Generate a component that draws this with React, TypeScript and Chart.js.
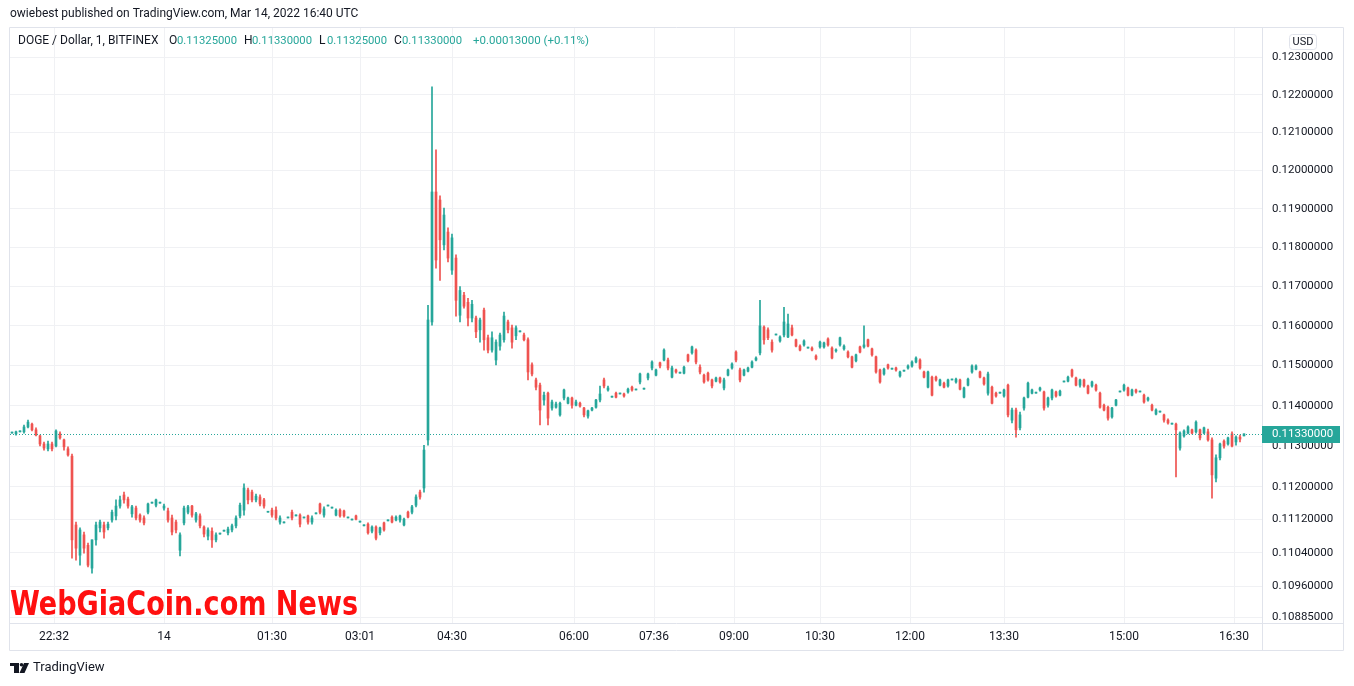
import { useEffect, useRef } from "react";
import { Chart, registerables } from "chart.js";

Chart.register(...registerables);

// DOGE / Dollar, 1 min, BITFINEX — one entry per candle (left to right)
const open = [
  0.11332, 0.11330, 0.11335, 0.11335, 0.11347, 0.11354, 0.11340, 0.11325, 0.11305, 0.11293,
  0.11305, 0.11300, 0.11330, 0.11315, 0.11293, 0.11275, 0.11107, 0.11034, 0.11083, 0.11058,
  0.11003, 0.11071, 0.11100, 0.11107, 0.11100, 0.11119, 0.11129, 0.11153, 0.11180, 0.11170,
  0.11134, 0.11148, 0.11131, 0.11124, 0.11138, 0.11160, 0.11155, 0.11160, 0.11148, 0.11141,
  0.11124, 0.11114, 0.11046, 0.11112, 0.11138, 0.11153, 0.11119, 0.11129, 0.11102, 0.11080,
  0.11092, 0.11071, 0.11085, 0.11092, 0.11088, 0.11095, 0.11105, 0.11129, 0.11143, 0.11192,
  0.11187, 0.11168, 0.11175, 0.11168, 0.11138, 0.11143, 0.11143, 0.11114, 0.11112, 0.11124,
  0.11138, 0.11129, 0.11131, 0.11124, 0.11129, 0.11114, 0.11134, 0.11158, 0.11131, 0.11153,
  0.11148, 0.11131, 0.11143, 0.11141, 0.11124, 0.11119, 0.11129, 0.11114, 0.11105, 0.11109,
  0.11092, 0.11102, 0.11088, 0.11112, 0.11117, 0.11126, 0.11119, 0.11119, 0.11107, 0.11138,
  0.11138, 0.11155, 0.11187, 0.11197, 0.11315, 0.11610, 0.11944, 0.11923, 0.11807, 0.11840,
  0.11742, 0.11773, 0.11627, 0.11678, 0.11660, 0.11620, 0.11620, 0.11590, 0.11640, 0.11570,
  0.11539, 0.11514, 0.11549, 0.11565, 0.11610, 0.11595, 0.11575, 0.11585, 0.11577, 0.11565,
  0.11502, 0.11464, 0.11451, 0.11414, 0.11431, 0.11394, 0.11396, 0.11377, 0.11419, 0.11406,
  0.11419, 0.11401, 0.11406, 0.11394, 0.11374, 0.11389, 0.11396, 0.11414, 0.11464, 0.11439,
  0.11421, 0.11431, 0.11429, 0.11429, 0.11434, 0.11446, 0.11439, 0.11459, 0.11441, 0.11469,
  0.11494, 0.11476, 0.11507, 0.11514, 0.11514, 0.11471, 0.11489, 0.11481, 0.11481, 0.11527,
  0.11532, 0.11539, 0.11496, 0.11476, 0.11481, 0.11464, 0.11461, 0.11469, 0.11444, 0.11476,
  0.11494, 0.11534, 0.11489, 0.11476, 0.11486, 0.11496, 0.11514, 0.11532, 0.11597, 0.11590,
  0.11559, 0.11577, 0.11562, 0.11577, 0.11572, 0.11595, 0.11565, 0.11549, 0.11552, 0.11544,
  0.11544, 0.11524, 0.11547, 0.11547, 0.11567, 0.11544, 0.11537, 0.11552, 0.11542, 0.11534,
  0.11522, 0.11512, 0.11547, 0.11547, 0.11565, 0.11542, 0.11522, 0.11489, 0.11479, 0.11502,
  0.11491, 0.11494, 0.11474, 0.11486, 0.11494, 0.11499, 0.11509, 0.11514, 0.11484, 0.11446,
  0.11471, 0.11471, 0.11451, 0.11456, 0.11449, 0.11464, 0.11459, 0.11464, 0.11421, 0.11451,
  0.11484, 0.11491, 0.11484, 0.11469, 0.11431, 0.11446, 0.11431, 0.11431, 0.11424, 0.11451,
  0.11364, 0.11389, 0.11345, 0.11394, 0.11421, 0.11431, 0.11431, 0.11439, 0.11434, 0.11401,
  0.11419, 0.11434, 0.11426, 0.11459, 0.11461, 0.11489, 0.11469, 0.11451, 0.11464, 0.11449,
  0.11449, 0.11451, 0.11431, 0.11401, 0.11396, 0.11372, 0.11401, 0.11434, 0.11439, 0.11444,
  0.11426, 0.11439, 0.11434, 0.11426, 0.11414, 0.11401, 0.11379, 0.11384, 0.11377, 0.11364,
  0.11354, 0.11354, 0.11295, 0.11325, 0.11332, 0.11340, 0.11335, 0.11340, 0.11332, 0.11335,
  0.11315, 0.11221, 0.11271, 0.11312, 0.11305, 0.11330, 0.11310, 0.11322, 0.11325,
];

const high = [
  0.11332, 0.11337, 0.11335, 0.11352, 0.11364, 0.11357, 0.11345, 0.11327, 0.11310, 0.11312,
  0.11310, 0.11340, 0.11335, 0.11317, 0.11298, 0.11280, 0.11114, 0.11100, 0.11090, 0.11063,
  0.11071, 0.11114, 0.11119, 0.11114, 0.11114, 0.11143, 0.11168, 0.11177, 0.11187, 0.11175,
  0.11155, 0.11153, 0.11134, 0.11129, 0.11160, 0.11160, 0.11170, 0.11160, 0.11158, 0.11148,
  0.11131, 0.11119, 0.11088, 0.11153, 0.11155, 0.11155, 0.11138, 0.11134, 0.11105, 0.11100,
  0.11100, 0.11088, 0.11085, 0.11092, 0.11102, 0.11109, 0.11129, 0.11160, 0.11207, 0.11197,
  0.11192, 0.11182, 0.11180, 0.11172, 0.11138, 0.11148, 0.11151, 0.11129, 0.11112, 0.11124,
  0.11143, 0.11129, 0.11134, 0.11124, 0.11131, 0.11129, 0.11134, 0.11160, 0.11151, 0.11153,
  0.11148, 0.11146, 0.11146, 0.11143, 0.11124, 0.11119, 0.11131, 0.11114, 0.11105, 0.11112,
  0.11105, 0.11105, 0.11102, 0.11114, 0.11117, 0.11129, 0.11129, 0.11131, 0.11124, 0.11141,
  0.11155, 0.11180, 0.11192, 0.11302, 0.11652, 0.12221, 0.12054, 0.11934, 0.11902, 0.11851,
  0.11835, 0.11781, 0.11700, 0.11685, 0.11670, 0.11665, 0.11625, 0.11620, 0.11645, 0.11577,
  0.11585, 0.11565, 0.11582, 0.11635, 0.11615, 0.11602, 0.11600, 0.11585, 0.11582, 0.11570,
  0.11507, 0.11469, 0.11456, 0.11434, 0.11434, 0.11414, 0.11409, 0.11409, 0.11441, 0.11421,
  0.11421, 0.11414, 0.11409, 0.11396, 0.11389, 0.11396, 0.11416, 0.11449, 0.11469, 0.11449,
  0.11421, 0.11434, 0.11429, 0.11431, 0.11444, 0.11449, 0.11439, 0.11481, 0.11441, 0.11481,
  0.11512, 0.11491, 0.11509, 0.11542, 0.11519, 0.11499, 0.11491, 0.11481, 0.11499, 0.11529,
  0.11549, 0.11542, 0.11502, 0.11479, 0.11484, 0.11466, 0.11471, 0.11471, 0.11469, 0.11491,
  0.11507, 0.11537, 0.11494, 0.11491, 0.11496, 0.11512, 0.11522, 0.11665, 0.11600, 0.11595,
  0.11565, 0.11577, 0.11575, 0.11647, 0.11630, 0.11602, 0.11567, 0.11552, 0.11565, 0.11544,
  0.11547, 0.11527, 0.11562, 0.11559, 0.11570, 0.11547, 0.11542, 0.11572, 0.11552, 0.11537,
  0.11524, 0.11529, 0.11549, 0.11600, 0.11567, 0.11544, 0.11524, 0.11491, 0.11494, 0.11504,
  0.11491, 0.11496, 0.11486, 0.11486, 0.11502, 0.11512, 0.11522, 0.11517, 0.11486, 0.11486,
  0.11474, 0.11474, 0.11466, 0.11459, 0.11466, 0.11464, 0.11469, 0.11466, 0.11446, 0.11469,
  0.11502, 0.11502, 0.11486, 0.11471, 0.11484, 0.11449, 0.11434, 0.11431, 0.11441, 0.11454,
  0.11394, 0.11394, 0.11384, 0.11421, 0.11459, 0.11441, 0.11431, 0.11446, 0.11436, 0.11421,
  0.11441, 0.11436, 0.11439, 0.11459, 0.11474, 0.11491, 0.11471, 0.11466, 0.11466, 0.11451,
  0.11461, 0.11454, 0.11434, 0.11404, 0.11399, 0.11396, 0.11416, 0.11434, 0.11454, 0.11446,
  0.11441, 0.11441, 0.11434, 0.11429, 0.11421, 0.11404, 0.11392, 0.11384, 0.11379, 0.11367,
  0.11354, 0.11357, 0.11335, 0.11340, 0.11350, 0.11342, 0.11362, 0.11342, 0.11347, 0.11342,
  0.11320, 0.11278, 0.11307, 0.11315, 0.11322, 0.11335, 0.11325, 0.11327, 0.11330,
];

const low = [
  0.11332, 0.11327, 0.11335, 0.11332, 0.11345, 0.11337, 0.11325, 0.11300, 0.11290, 0.11288,
  0.11288, 0.11298, 0.11317, 0.11290, 0.11275, 0.11027, 0.11022, 0.11010, 0.11039, 0.11006,
  0.10991, 0.11058, 0.11090, 0.11075, 0.11095, 0.11114, 0.11119, 0.11148, 0.11160, 0.11148,
  0.11126, 0.11119, 0.11114, 0.11107, 0.11134, 0.11160, 0.11151, 0.11160, 0.11143, 0.11114,
  0.11083, 0.11088, 0.11032, 0.11107, 0.11134, 0.11126, 0.11114, 0.11100, 0.11078, 0.11071,
  0.11053, 0.11066, 0.11085, 0.11092, 0.11083, 0.11090, 0.11100, 0.11124, 0.11131, 0.11158,
  0.11163, 0.11163, 0.11153, 0.11148, 0.11138, 0.11126, 0.11119, 0.11109, 0.11112, 0.11124,
  0.11119, 0.11129, 0.11102, 0.11124, 0.11109, 0.11109, 0.11134, 0.11134, 0.11126, 0.11153,
  0.11148, 0.11129, 0.11126, 0.11126, 0.11124, 0.11119, 0.11119, 0.11114, 0.11105, 0.11085,
  0.11088, 0.11071, 0.11083, 0.11092, 0.11117, 0.11112, 0.11117, 0.11114, 0.11105, 0.11124,
  0.11134, 0.11151, 0.11170, 0.11187, 0.11302, 0.11602, 0.11747, 0.11716, 0.11794, 0.11763,
  0.11731, 0.11625, 0.11610, 0.11645, 0.11600, 0.11610, 0.11570, 0.11559, 0.11539, 0.11532,
  0.11534, 0.11502, 0.11539, 0.11559, 0.11582, 0.11544, 0.11565, 0.11585, 0.11562, 0.11464,
  0.11474, 0.11439, 0.11352, 0.11401, 0.11352, 0.11389, 0.11394, 0.11374, 0.11414, 0.11404,
  0.11394, 0.11399, 0.11396, 0.11372, 0.11369, 0.11387, 0.11394, 0.11409, 0.11444, 0.11436,
  0.11421, 0.11419, 0.11429, 0.11421, 0.11431, 0.11436, 0.11439, 0.11454, 0.11441, 0.11464,
  0.11489, 0.11474, 0.11494, 0.11512, 0.11489, 0.11469, 0.11481, 0.11481, 0.11479, 0.11509,
  0.11529, 0.11504, 0.11479, 0.11456, 0.11461, 0.11444, 0.11459, 0.11456, 0.11439, 0.11474,
  0.11491, 0.11509, 0.11459, 0.11474, 0.11484, 0.11494, 0.11512, 0.11527, 0.11554, 0.11565,
  0.11534, 0.11577, 0.11559, 0.11572, 0.11570, 0.11575, 0.11547, 0.11537, 0.11549, 0.11544,
  0.11537, 0.11514, 0.11544, 0.11544, 0.11549, 0.11517, 0.11534, 0.11549, 0.11539, 0.11519,
  0.11494, 0.11509, 0.11532, 0.11544, 0.11547, 0.11524, 0.11481, 0.11456, 0.11476, 0.11491,
  0.11491, 0.11486, 0.11471, 0.11486, 0.11491, 0.11496, 0.11507, 0.11491, 0.11469, 0.11444,
  0.11424, 0.11461, 0.11449, 0.11444, 0.11446, 0.11464, 0.11456, 0.11439, 0.11419, 0.11449,
  0.11481, 0.11489, 0.11469, 0.11451, 0.11426, 0.11404, 0.11421, 0.11431, 0.11421, 0.11372,
  0.11357, 0.11322, 0.11340, 0.11389, 0.11419, 0.11429, 0.11431, 0.11436, 0.11389, 0.11396,
  0.11414, 0.11421, 0.11424, 0.11459, 0.11459, 0.11471, 0.11449, 0.11446, 0.11446, 0.11429,
  0.11446, 0.11436, 0.11394, 0.11387, 0.11364, 0.11369, 0.11399, 0.11434, 0.11436, 0.11424,
  0.11424, 0.11431, 0.11434, 0.11406, 0.11411, 0.11387, 0.11377, 0.11384, 0.11359, 0.11354,
  0.11354, 0.11224, 0.11290, 0.11322, 0.11330, 0.11330, 0.11332, 0.11315, 0.11330, 0.11312,
  0.11172, 0.11212, 0.11266, 0.11295, 0.11302, 0.11298, 0.11302, 0.11310, 0.11325,
];

const close = [
  0.11332, 0.11335, 0.11335, 0.11347, 0.11359, 0.11340, 0.11327, 0.11305, 0.11295, 0.11305,
  0.11293, 0.11337, 0.11320, 0.11298, 0.11278, 0.11071, 0.11051, 0.11095, 0.11051, 0.11010,
  0.11071, 0.11107, 0.11114, 0.11090, 0.11109, 0.11138, 0.11153, 0.11168, 0.11168, 0.11153,
  0.11151, 0.11124, 0.11119, 0.11112, 0.11158, 0.11160, 0.11168, 0.11160, 0.11153, 0.11119,
  0.11090, 0.11095, 0.11083, 0.11148, 0.11151, 0.11131, 0.11134, 0.11105, 0.11085, 0.11095,
  0.11071, 0.11083, 0.11085, 0.11092, 0.11097, 0.11105, 0.11124, 0.11155, 0.11197, 0.11168,
  0.11168, 0.11177, 0.11158, 0.11153, 0.11138, 0.11131, 0.11124, 0.11124, 0.11112, 0.11124,
  0.11124, 0.11129, 0.11109, 0.11124, 0.11114, 0.11124, 0.11134, 0.11138, 0.11146, 0.11153,
  0.11148, 0.11143, 0.11129, 0.11129, 0.11124, 0.11119, 0.11121, 0.11114, 0.11105, 0.11088,
  0.11102, 0.11075, 0.11100, 0.11095, 0.11117, 0.11114, 0.11126, 0.11129, 0.11121, 0.11126,
  0.11151, 0.11175, 0.11175, 0.11290, 0.11615, 0.11944, 0.11768, 0.11820, 0.11884, 0.11773,
  0.11825, 0.11665, 0.11690, 0.11650, 0.11620, 0.11655, 0.11585, 0.11615, 0.11565, 0.11539,
  0.11570, 0.11559, 0.11577, 0.11625, 0.11590, 0.11559, 0.11595, 0.11585, 0.11565, 0.11484,
  0.11479, 0.11446, 0.11389, 0.11426, 0.11369, 0.11409, 0.11404, 0.11406, 0.11439, 0.11419,
  0.11401, 0.11409, 0.11399, 0.11377, 0.11387, 0.11394, 0.11414, 0.11429, 0.11449, 0.11444,
  0.11421, 0.11421, 0.11429, 0.11424, 0.11441, 0.11439, 0.11439, 0.11479, 0.11441, 0.11479,
  0.11509, 0.11489, 0.11499, 0.11539, 0.11494, 0.11494, 0.11484, 0.11481, 0.11496, 0.11512,
  0.11547, 0.11509, 0.11484, 0.11459, 0.11464, 0.11449, 0.11469, 0.11459, 0.11464, 0.11489,
  0.11504, 0.11514, 0.11464, 0.11489, 0.11494, 0.11509, 0.11519, 0.11600, 0.11565, 0.11570,
  0.11539, 0.11577, 0.11572, 0.11610, 0.11605, 0.11577, 0.11549, 0.11539, 0.11562, 0.11544,
  0.11539, 0.11517, 0.11559, 0.11557, 0.11552, 0.11519, 0.11539, 0.11570, 0.11549, 0.11522,
  0.11496, 0.11527, 0.11534, 0.11552, 0.11549, 0.11527, 0.11484, 0.11459, 0.11491, 0.11494,
  0.11491, 0.11489, 0.11484, 0.11486, 0.11499, 0.11509, 0.11519, 0.11494, 0.11471, 0.11484,
  0.11426, 0.11464, 0.11464, 0.11446, 0.11464, 0.11464, 0.11466, 0.11441, 0.11444, 0.11466,
  0.11499, 0.11499, 0.11471, 0.11454, 0.11479, 0.11406, 0.11424, 0.11431, 0.11439, 0.11377,
  0.11389, 0.11340, 0.11377, 0.11419, 0.11456, 0.11439, 0.11431, 0.11444, 0.11394, 0.11419,
  0.11439, 0.11424, 0.11436, 0.11459, 0.11471, 0.11474, 0.11451, 0.11464, 0.11449, 0.11431,
  0.11459, 0.11439, 0.11396, 0.11389, 0.11369, 0.11394, 0.11414, 0.11434, 0.11451, 0.11426,
  0.11439, 0.11434, 0.11434, 0.11409, 0.11419, 0.11389, 0.11389, 0.11384, 0.11364, 0.11357,
  0.11354, 0.11340, 0.11332, 0.11337, 0.11347, 0.11332, 0.11359, 0.11320, 0.11345, 0.11315,
  0.11229, 0.11271, 0.11305, 0.11300, 0.11320, 0.11300, 0.11322, 0.11317, 0.11330,
];

// time-axis ticks: bar index and label
const timeTickIndex = [10.5, 38, 65, 87, 110, 140.5, 160.5, 180.5, 202, 224.5, 248, 278, 305.5];
const timeTickLabels = ["22:32", "14", "01:30", "03:01", "04:30", "06:00", "07:36", "09:00", "10:30", "12:00", "13:30", "15:00", "16:30"];

// price-axis ticks (log scale)
const priceTicks = [0.123, 0.122, 0.121, 0.12, 0.119, 0.118, 0.117, 0.116, 0.115, 0.114, 0.113, 0.112, 0.1112, 0.1104, 0.1096, 0.10885];
const priceMin = 0.10872;
const priceMax = 0.12379;

const headerText = "owiebest published on TradingView.com, Mar 14, 2022 16:40 UTC";
const symbolText = "DOGE / Dollar, 1, BITFINEX";
const watermarkText = "WebGiaCoin.com News";

const UP = "#26a69a";
const DOWN = "#ef5350";
const TEXT = "#131722";
const LINE = "#e0e3eb";
const GRID = "#f0f1f4";
const FONT = "Roboto, 'Noto Sans', sans-serif";

export default function App() {
  const ref = useRef<HTMLCanvasElement | null>(null);

  useEffect(() => {
    const canvas = ref.current;
    if (!canvas) return;
    const n = close.length;
    const colors = close.map((c, i) => (c >= open[i] ? UP : DOWN));
    const wickData = high.map((h, i) => ({ x: i, y: [low[i], h] }));
    const bodyData = close.map((c, i) => ({ x: i, y: [Math.min(open[i], c), Math.max(open[i], c)] }));
    const last = close[n - 1];
    const prev = close[n - 2];

    const decor = {
      id: "decor",
      afterDatasetsDraw(chart: any) {
        const ctx = chart.ctx as CanvasRenderingContext2D;
        const a = chart.chartArea;
        const y = Math.round(chart.scales.y.getPixelForValue(last)) + 0.5;
        ctx.save();
        ctx.strokeStyle = UP;
        ctx.lineWidth = 1;
        ctx.setLineDash([1, 2]);
        ctx.beginPath();
        ctx.moveTo(a.left, y);
        ctx.lineTo(a.right, y);
        ctx.stroke();
        ctx.restore();
      },
      afterDraw(chart: any) {
        const ctx = chart.ctx as CanvasRenderingContext2D;
        const a = chart.chartArea;
        const ys = chart.scales.y;
        const xs = chart.scales.x;
        ctx.save();
        // frame
        ctx.strokeStyle = LINE;
        ctx.lineWidth = 1;
        ctx.beginPath();
        ctx.rect(a.left - 0.5, a.top - 0.5, ys.right - a.left, xs.bottom - a.top + 1);
        ctx.moveTo(a.right + 0.5, a.top - 0.5);
        ctx.lineTo(a.right + 0.5, xs.bottom + 0.5);
        ctx.moveTo(a.left - 0.5, a.bottom + 0.5);
        ctx.lineTo(ys.right - 0.5, a.bottom + 0.5);
        ctx.stroke();

        // header
        ctx.textBaseline = "middle";
        ctx.textAlign = "left";
        ctx.fillStyle = TEXT;
        ctx.font = `12px ${FONT}`;
        ctx.fillText(headerText, 10, 14, 350);

        // legend
        const ly = 41;
        ctx.font = `12px ${FONT}`;
        ctx.fillStyle = TEXT;
        ctx.fillText(symbolText, 18, ly, 143);
        let x = 169;
        const parts: [string, number][] = [
          ["O", open[n - 1]],
          ["H", high[n - 1]],
          ["L", low[n - 1]],
          ["C", close[n - 1]],
        ];
        for (const [k, v] of parts) {
          ctx.font = `12px ${FONT}`;
          ctx.fillStyle = TEXT;
          ctx.fillText(k, x, ly);
          const kw = k === "H" ? 8 : 8;
          x += kw;
          const s = v.toFixed(8);
          ctx.font = `11.5px ${FONT}`;
          ctx.fillStyle = UP;
          ctx.fillText(s, x, ly, 60);
          x += 60 + 7;
        }
        const ch = last - prev;
        const chs = `${ch >= 0 ? "+" : "-"}${Math.abs(ch).toFixed(8)} (${ch >= 0 ? "+" : "-"}${Math.abs((ch / prev) * 100).toFixed(2)}%)`;
        ctx.fillStyle = ch >= 0 ? UP : DOWN;
        ctx.fillText(chs, x + 4, ly, 117);

        // USD box
        ctx.strokeStyle = LINE;
        ctx.beginPath();
        (ctx as any).roundRect(1289.5, 34.5, 27, 15, 3);
        ctx.stroke();
        ctx.fillStyle = TEXT;
        ctx.font = `11px ${FONT}`;
        ctx.textAlign = "center";
        ctx.fillText("USD", 1303, 42.5);

        // last price label
        const py = Math.round(ys.getPixelForValue(last));
        ctx.fillStyle = UP;
        ctx.fillRect(a.right, py - 8, 78, 17);
        ctx.fillStyle = "#ffffff";
        ctx.font = `11.5px ${FONT}`;
        ctx.textAlign = "left";
        ctx.fillText(last.toFixed(8), a.right + 10, py + 0.5);

        // watermark
        ctx.fillStyle = "#ff1010";
        ctx.font = `bold 34px 'DejaVu Sans Condensed', 'DejaVu Sans', sans-serif`;
        ctx.textBaseline = "alphabetic";
        ctx.fillText(watermarkText, 10, 615, 348);

        // footer logo
        ctx.fillStyle = TEXT;
        ctx.fillRect(10, 663, 9, 3);
        ctx.fillRect(14, 663, 5, 10);
        ctx.beginPath();
        ctx.arc(21.5, 664.8, 1.8, 0, Math.PI * 2);
        ctx.fill();
        ctx.beginPath();
        ctx.moveTo(24, 663);
        ctx.lineTo(29, 663);
        ctx.lineTo(24.5, 673);
        ctx.lineTo(19.5, 673);
        ctx.closePath();
        ctx.fill();
        ctx.font = `13px ${FONT}`;
        ctx.textBaseline = "middle";
        ctx.fillText("TradingView", 33, 668);
        ctx.restore();
      },
    };

    const chart = new Chart(canvas, {
      type: "bar",
      data: {
        datasets: [
          {
            data: wickData as any,
            backgroundColor: colors,
            barThickness: 1,
            minBarLength: 1,
            grouped: false,
            borderWidth: 0,
            order: 2,
          } as any,
          {
            data: bodyData as any,
            backgroundColor: colors,
            barThickness: 2,
            minBarLength: 1,
            grouped: false,
            borderWidth: 0,
            order: 1,
          } as any,
        ],
      },
      options: {
        animation: false,
        responsive: false,
        events: [],
        layout: { padding: { left: 10, top: 28, right: 10, bottom: 36 } },
        plugins: { legend: { display: false }, tooltip: { enabled: false } },
        scales: {
          x: {
            type: "linear",
            min: -0.5,
            max: 312.5,
            offset: false,
            bounds: "data",
            afterBuildTicks: (s: any) => {
              s.ticks = timeTickIndex.map((v) => ({ value: v }));
            },
            afterFit: (s: any) => {
              s.height = 27;
            },
            ticks: {
              autoSkip: false,
              maxRotation: 0,
              minRotation: 0,
              padding: 7,
              color: TEXT,
              font: { family: FONT, size: 12 },
              callback: (v: any) => {
                const k = timeTickIndex.indexOf(Number(v));
                return k >= 0 ? timeTickLabels[k] : "";
              },
            },
            grid: { color: GRID, drawTicks: false, offset: false },
            border: { display: false },
          } as any,
          y: {
            type: "logarithmic",
            position: "right",
            min: priceMin,
            max: priceMax,
            bounds: "data",
            afterBuildTicks: (s: any) => {
              s.ticks = priceTicks.map((v) => ({ value: v }));
            },
            afterFit: (s: any) => {
              s.width = 82;
            },
            ticks: {
              autoSkip: false,
              padding: 10,
              color: TEXT,
              font: { family: FONT, size: 11.5 },
              callback: (v: any) => Number(v).toFixed(8),
            },
            grid: { color: GRID, drawTicks: false },
            border: { display: false },
          } as any,
        },
      },
      plugins: [decor],
    });
    return () => chart.destroy();
  }, []);

  return (
    <div style={{ position: "absolute", left: 0, top: 0, width: 1354, height: 686, background: "#ffffff" }}>
      <canvas ref={ref} width={1354} height={686} style={{ display: "block" }} />
    </div>
  );
}
